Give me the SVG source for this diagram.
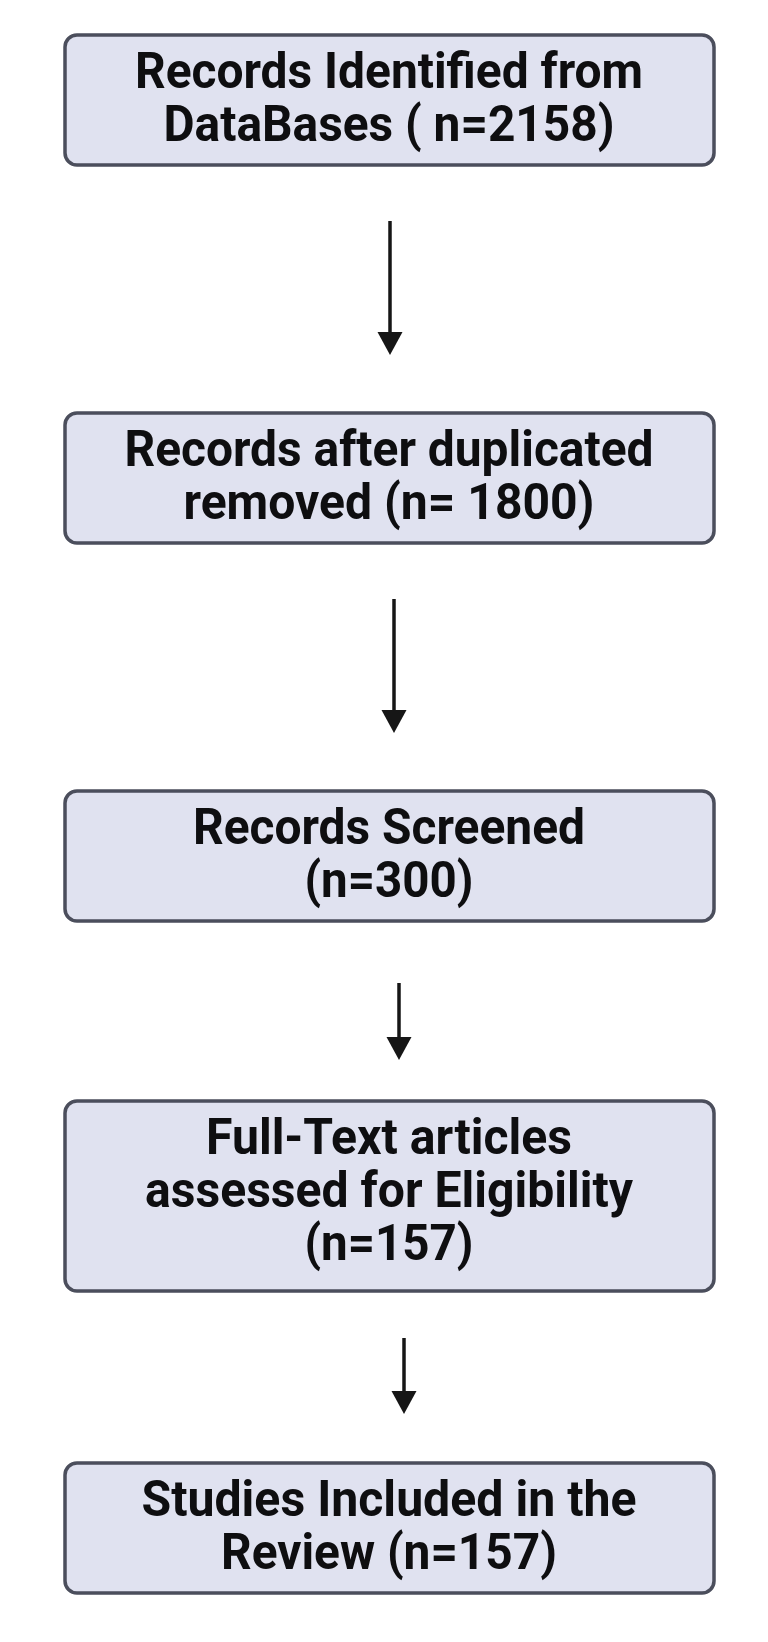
<svg xmlns="http://www.w3.org/2000/svg" width="768" height="1642" viewBox="0 0 768 1642">
  <style>
    .box { fill: #e0e2f0; stroke: #4b4e5c; stroke-width: 3.5; }
    .lbl { font-family: Roboto, "Liberation Sans", sans-serif; font-weight: bold; font-size: 50px; fill: #0e0e10; text-anchor: middle; }
    .conn { stroke: #161616; stroke-width: 3.5; fill: none; marker-end: url(#arrow); }
  </style>
  <defs>
    <marker id="arrow" markerUnits="userSpaceOnUse" markerWidth="24" markerHeight="26" refX="13" refY="13" orient="auto" viewBox="0 0 24 26">
      <path d="M0,0.5 L23,13 L0,25.5 z" fill="#161616"/>
    </marker>
  </defs>
  <rect width="768" height="1642" fill="#ffffff"/>

  <g id="node-identified">
    <rect class="box" x="65" y="35" width="649" height="130" rx="12"/>
    <text class="lbl" x="389" y="88" textLength="508" lengthAdjust="spacingAndGlyphs">Records Identified from</text>
    <text class="lbl" x="389" y="141" textLength="451" lengthAdjust="spacingAndGlyphs">DataBases ( n=2158)</text>
  </g>

  <g id="node-dedup">
    <rect class="box" x="65" y="413" width="649" height="130" rx="12"/>
    <text class="lbl" x="389" y="466" textLength="529" lengthAdjust="spacingAndGlyphs">Records after duplicated</text>
    <text class="lbl" x="389" y="519" textLength="411" lengthAdjust="spacingAndGlyphs">removed (n= 1800)</text>
  </g>

  <g id="node-screened">
    <rect class="box" x="65" y="791" width="649" height="130" rx="12"/>
    <text class="lbl" x="389" y="844" textLength="392" lengthAdjust="spacingAndGlyphs">Records Screened</text>
    <text class="lbl" x="389" y="897" textLength="169" lengthAdjust="spacingAndGlyphs">(n=300)</text>
  </g>

  <g id="node-fulltext">
    <rect class="box" x="65" y="1101" width="649" height="190" rx="12"/>
    <text class="lbl" x="389" y="1154" textLength="366" lengthAdjust="spacingAndGlyphs">Full-Text articles</text>
    <text class="lbl" x="389" y="1207" textLength="488" lengthAdjust="spacingAndGlyphs">assessed for Eligibility</text>
    <text class="lbl" x="389" y="1260" textLength="169" lengthAdjust="spacingAndGlyphs">(n=157)</text>
  </g>

  <g id="node-included">
    <rect class="box" x="65" y="1463" width="649" height="130" rx="12"/>
    <text class="lbl" x="389" y="1516" textLength="495" lengthAdjust="spacingAndGlyphs">Studies Included in the</text>
    <text class="lbl" x="389" y="1569" textLength="336" lengthAdjust="spacingAndGlyphs">Review (n=157)</text>
  </g>

  <g id="connectors">
    <line class="conn" x1="390" y1="221" x2="390" y2="345"/>
    <line class="conn" x1="394" y1="599" x2="394" y2="723"/>
    <line class="conn" x1="399" y1="983" x2="399" y2="1050"/>
    <line class="conn" x1="404" y1="1338" x2="404" y2="1404"/>
  </g>
</svg>
